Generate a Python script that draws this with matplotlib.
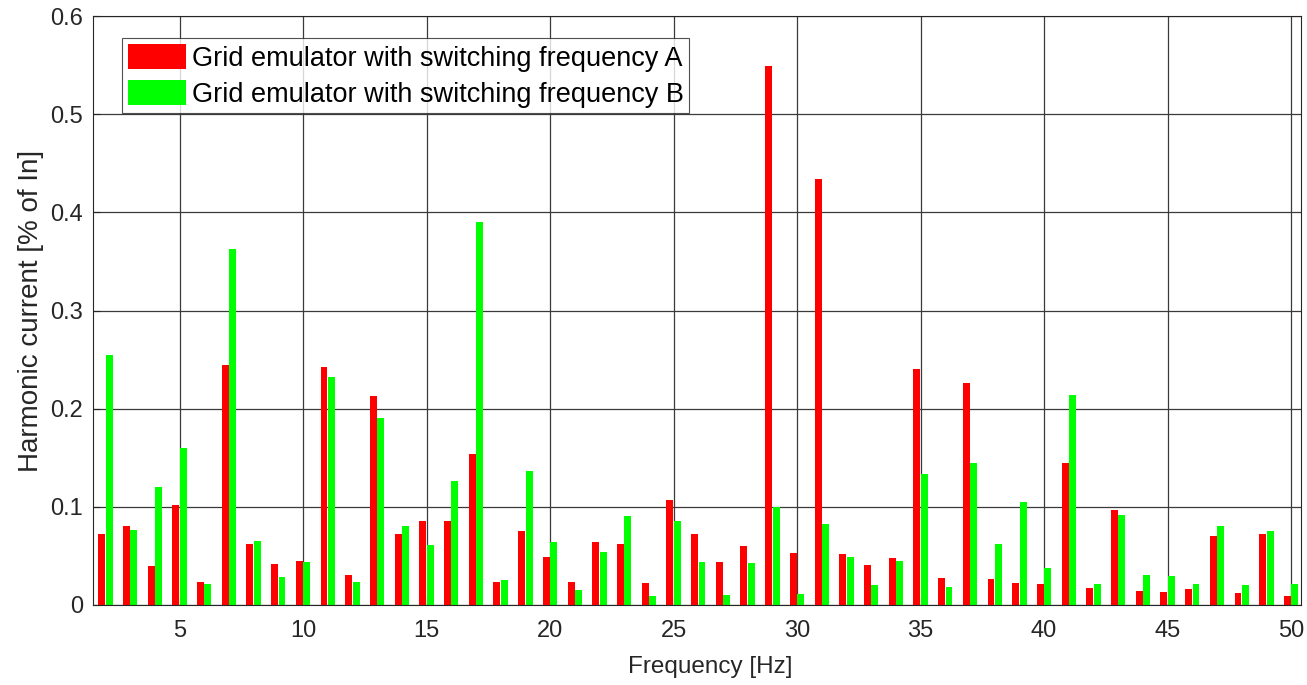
import numpy as np
import matplotlib
matplotlib.use('Agg')
import matplotlib.pyplot as plt

# Harmonic orders and measured harmonic currents (% of In)
harmonics = list(range(2, 51))
current_a = [0.072, 0.080, 0.040, 0.102, 0.023, 0.244, 0.062, 0.042, 0.045,
             0.242, 0.031, 0.213, 0.072, 0.086, 0.086, 0.154, 0.023, 0.075,
             0.049, 0.023, 0.064, 0.062, 0.022, 0.107, 0.072, 0.044, 0.060,
             0.549, 0.053, 0.434, 0.052, 0.041, 0.048, 0.240, 0.028, 0.226,
             0.026, 0.022, 0.021, 0.145, 0.017, 0.097, 0.014, 0.013, 0.016,
             0.070, 0.012, 0.072, 0.009]
current_b = [0.255, 0.076, 0.120, 0.160, 0.021, 0.363, 0.065, 0.029, 0.044,
             0.232, 0.023, 0.190, 0.080, 0.061, 0.126, 0.390, 0.025, 0.137,
             0.064, 0.015, 0.054, 0.091, 0.009, 0.086, 0.044, 0.010, 0.043,
             0.100, 0.011, 0.083, 0.049, 0.020, 0.045, 0.133, 0.018, 0.145,
             0.062, 0.105, 0.038, 0.214, 0.021, 0.092, 0.031, 0.030, 0.021,
             0.080, 0.020, 0.075, 0.021]
labels = ['Grid emulator with switching frequency A',
          'Grid emulator with switching frequency B']
x_ticks = [5, 10, 15, 20, 25, 30, 35, 40, 45, 50]
y_ticks = [0, 0.1, 0.2, 0.3, 0.4, 0.5, 0.6]

plt.rcParams['font.family'] = ['Liberation Sans', 'DejaVu Sans']

fig = plt.figure(figsize=(13.07, 6.85), dpi=100)
ax = fig.add_axes([0.0712, 0.1168, 0.9242, 0.8598])

x = np.array(harmonics)
width = 0.28
ax.bar(x - 0.15, current_a, width, color='#ff0000', label=labels[0], zorder=2)
ax.bar(x + 0.15, current_b, width, color='#00ff00', label=labels[1], zorder=2)

ax.set_xlim(1.5, 50.4)
ax.set_ylim(0, 0.6)
ax.set_xticks(x_ticks)
ax.set_yticks(y_ticks)
ax.set_yticklabels(['0', '0.1', '0.2', '0.3', '0.4', '0.5', '0.6'])
ax.tick_params(labelsize=17, colors='#262626', direction='in', length=5)
ax.tick_params(axis='x', pad=11)
ax.tick_params(axis='y', pad=7)
ax.grid(True, color='#3a3a3a', linewidth=0.9, zorder=0)
ax.set_axisbelow(True)
for s in ax.spines.values():
    s.set_color('#262626')

ax.set_xlabel('Frequency [Hz]', fontsize=17.5, color='#262626', labelpad=10, x=0.511)
ax.set_ylabel('Harmonic current [% of In]', fontsize=20, color='#262626', labelpad=5)

leg = ax.legend(loc='upper left', bbox_to_anchor=(0.024, 0.963), borderaxespad=0,
                fontsize=19.5, frameon=True, fancybox=False, edgecolor='#262626',
                handlelength=2.15, handleheight=1.05, handletextpad=0.2,
                labelspacing=0.3, borderpad=0.22)
leg.get_frame().set_linewidth(0.8)

fig.savefig('out.png', dpi=100)
